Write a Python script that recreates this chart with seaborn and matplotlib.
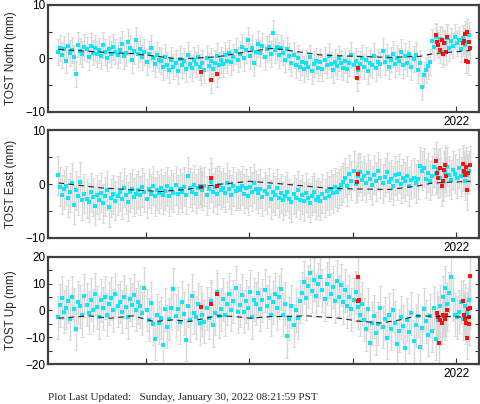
import numpy as np
import matplotlib
matplotlib.use("Agg")
import matplotlib.pyplot as plt
import seaborn as sns

# span of the daily GPS solutions (decimal year)
t_first, t_last = 2018.15, 2022.13

north = [1.2, 2.0, 0.6, 1.8, -0.4, 2.4, 1.0, 1.6, 0.2, -2.9,
         2.6, 1.4, 0.8, 2.1, 1.7, 0.3, 2.3, 1.1, 1.9, 0.9,
         1.5, 0.4, 2.5, 1.2, 0.0, 1.8, 0.9, 2.2, 1.3, 0.6,
         1.6, 2.7, 0.5, 1.0, 3.1, 1.9, -0.3, 1.4, 3.4, 0.8,
         1.7, 0.2, 1.2, -0.6, 0.9, 1.9, 0.0, -1.0, 0.7, -0.2,
         -0.5, -1.6, 0.3, -1.2, -2.1, -0.3, -1.5, -0.9, -2.4, -0.1,
         -1.3, -0.4, -2.0, 0.6, -1.0, -1.8, -0.2, -1.1, 0.2, -1.6,
         -0.8, -2.2, 0.1, -1.4, -0.5, -1.9, -0.9, 0.4, -1.2, -0.3,
         -1.0, 0.6, -0.4, 1.1, -0.7, 0.3, 1.4, -0.2,
         0.8, 2.2, 0.0, 1.6, 3.4, 0.5, 1.9, -0.9, 1.2, 2.7,
         1.0, 2.4, 0.3, 1.8, 2.1, 0.9, 4.8, 1.5, 2.2, 0.6,
         2.0, 1.1, -0.2, 1.7, 0.4, -0.8, 0.6, -1.2, 0.1, -1.6,
         -0.6, -2.0, -0.9, -1.5, 0.2, -2.3, -1.0, -0.4, -1.8, -0.7,
         -1.9, -0.3, -1.3, 0.5, -1.1, -2.1, -0.6, -1.4, 0.0, -0.9,
         -1.7, -0.4, -2.0, -0.8, 0.7, -1.3, -0.5, -2.2, -1.0, 0.1,
         -1.5, -0.2, -2.4, -0.9, -1.3, 0.4, -1.8, -0.6, -1.1, 1.4,
         -0.7, 0.3, -1.5, -0.2, 0.8, -1.0, 0.1, -0.5, 1.2, -1.3,
         0.4, -0.8, 0.9, -1.6, -0.1, 0.6, -2.2, -0.9, -5.3, -3.0,
         -2.2, -1.4, -0.6, 3.2, 2.1, 4.0,
         2.6, 3.6, 1.3, 2.9, 3.8, 2.0, 3.3, 2.4, 4.1, 2.8, 3.5, 1.8, 3.9, 2.5, 3.1, 4.4]

east = [1.6, -0.5, -2.0, -1.0, -0.3, -2.6, -1.5, 0.2, -3.8, -1.2,
        -2.2, 0.4, -3.0, -1.8, -2.7, -3.4, -1.5, -2.4, -4.0, -2.0,
        -2.9, -1.6, -3.6, -2.3, -1.2, -4.3, -2.6, -1.9, -3.1, -2.2,
        -1.4, -2.8, -0.7, -2.0, -3.3, -1.5, -0.9, -2.4, -1.8, -1.1,
        -2.1, -0.6, -1.5, -2.7, -0.9, -1.8, -0.3, -2.3, -1.2, -1.7,
        -0.8, -2.0, -1.3, -0.4, -2.3, -1.0, -1.6, -0.2, -1.9, -0.9,
        -1.5, -0.5, -2.0, 1.4, -0.7, -1.4, -0.1, -1.8, -0.8, -0.3,
        -1.2, -0.4, -2.1, -0.9, 0.3, -1.5, -0.6, -1.9, -0.2, -1.1,
        -0.7, -1.6, 0.2, -1.0, -2.0, -0.4, -1.3, -0.8,
        -1.2, -0.3, -1.8, -0.8, -2.2, -0.5, -1.4, 0.1, -1.0, -1.7,
        -0.9, -2.4, -1.3, -1.9, -0.6, -2.8, -1.5, -2.1, -0.8, -2.5,
        -1.7, -3.0, -2.2, -1.4, -2.7, -3.4, -1.9, -2.5, -1.2, -2.9,
        -2.0, -3.2, -1.6, -2.6, -3.5, -2.2, -1.5, -2.9, -2.4, -3.1,
        -1.8, -2.6, -1.3, -2.2, -1.0, -1.7, -0.6, -1.4, -0.9, -0.2,
        0.3, 1.2, -0.4, 1.8, 0.6, 2.5, 0.0, 1.4, 2.2, 0.7,
        1.5, 0.2, 2.0, 0.9, -0.2, 1.7, 0.5, 2.4, 1.1, 0.1,
        1.3, 2.2, 0.4, 0.9, -0.3, 1.6, 0.6, 1.9, 0.0, 1.1,
        0.5, 1.5, -0.4, 0.8, 1.2, 0.1, 0.9, 3.3, 2.5, 3.0,
        1.0, 2.1, 0.6, 1.5, 3.1, 1.8,
        2.8, 1.2, 0.4, 2.2, 3.2, 1.6, 0.8, 2.6, 1.9, 1.1, 2.9, 1.4, 2.3, 0.6, 1.7, 2.5]

up = [-2.5, 2.0, 4.8, -0.5, 1.0, 3.5, -3.2, 5.0, 0.5, -6.8,
      3.0, 1.5, -1.8, 5.5, 2.2, -0.8, 4.0, 0.2, 6.2, 1.2,
      -2.5, 3.8, 0.8, 5.0, -1.5, 2.6, 4.5, 0.0, 6.0, 1.8,
      3.2, -0.5, 5.2, 1.4, -2.6, 4.2, 2.1, 5.8, 0.3, 3.0,
      1.5, -1.0, 8.3, 0.2, -3.5, 2.8, -5.0, -10.5, -1.8, -4.5,
      -2.8, -12.8, 0.5, -6.0, -3.2, 1.0, 8.0, -2.0, 0.6, -4.4,
      3.0, -1.2, -11.0, 1.8, -3.6, 5.5, -0.8, -2.5, 2.4, -4.8,
      -1.5, -4.2, 0.8, -2.8, 3.5, -5.5, -1.0, 7.0, -2.2, 0.5,
      4.2, -1.5, 2.5, 6.0, 0.2, 3.5, 8.5, -0.5,
      2.0, 5.8, -0.5, 3.5, 1.0, 7.0, -2.5, 4.0, 2.5, 6.5,
      0.5, 3.8, 7.5, 1.5, 4.8, -1.5, 3.0, 6.2, 0.8, 5.0,
      8.0, -1.5, 2.5, -9.7, -3.0, 1.5, -5.5, 0.0, -2.8, 3.5,
      6.5, 10.5, 4.5, 9.0, 13.9, 7.2, 11.5, 5.5, 9.8, 12.5,
      7.5, 4.2, 10.0, 12.8, 6.0, 8.8, 3.5, 11.0, 5.2, 9.5,
      3.0, 7.5, 1.5, 5.2, 0.5, 4.0, 6.8, 1.2, -1.5, 2.5,
      -3.5, -7.0, 0.5, -12.0, -4.8, -2.2, -8.5, -5.0, 1.0, -6.2,
      -3.0, -10.2, -1.5, -6.8, 0.0, -4.5, -12.5, -7.5, -2.5, -5.8,
      -14.0, -3.5, -8.0, -1.0, -11.5, -5.5, -2.0, -13.5, -6.5, 0.5,
      -4.0, -9.0, -2.0, -7.5, 1.0, -10.5,
      -3.5, 1.5, 5.0, 8.5, 2.5, 6.5, 12.5, 4.0, -1.5, -2.5, -0.5, 3.0, -3.0, 1.8, -1.0, 4.0]

# flagged (red) solutions
north_red_t = [2019.54, 2019.63, 2019.69, 2021.05, 2021.04,
               2021.81, 2021.82, 2021.83, 2021.85, 2021.86, 2021.87, 2021.88, 2021.90, 2021.91,
               2022.07, 2022.08, 2022.09, 2022.10, 2022.11, 2022.12, 2022.13, 2022.14]
north_red = [-2.5, -4.0, -2.9, -1.7, -3.7,
             4.3, 3.0, 2.5, 1.5, 3.5, 0.9, 2.8, 1.2, 4.0,
             2.8, 3.3, 4.6, -0.4, 5.0, -0.6, 3.0, 2.0]
east_red_t = [2019.54, 2019.63, 2019.69, 2021.05, 2021.04,
              2021.81, 2021.82, 2021.83, 2021.85, 2021.86, 2021.87, 2021.88, 2021.89, 2021.90,
              2022.07, 2022.08, 2022.09, 2022.10, 2022.11, 2022.12, 2022.14]
east_red = [-0.6, 1.2, -0.3, 1.9, 0.4,
            4.2, 2.0, 1.1, 3.0, -0.4, 0.5, 2.6, 3.6, 1.4,
            3.7, 2.5, 1.7, 3.2, -1.2, 2.0, 3.5]
up_red_t = [2019.54, 2019.63, 2019.69, 2021.05, 2021.05, 2021.06,
            2021.82, 2021.83, 2021.84, 2021.85, 2021.86, 2021.87, 2021.88, 2021.89, 2021.90, 2021.91,
            2022.07, 2022.08, 2022.09, 2022.10, 2022.11, 2022.12, 2022.13, 2022.14, 2022.14, 2022.13]
up_red = [1.2, 2.5, 6.2, 12.7, 3.6, 4.0,
          -1.0, -2.5, -12.0, -3.5, -4.7, -1.8, -2.0, -3.0, -1.5, 0.3,
          3.4, -1.5, -3.0, -4.5, -10.3, 0.5, -2.5, 13.0, 1.0, -5.0]

# model fit (dashed)
north_model_t = [2018.16, 2018.56, 2018.88, 2019.11, 2019.33, 2019.69, 2020.0, 2020.23,
                 2020.72, 2021.36, 2021.65, 2021.78, 2022.14]
north_model = [1.7, 1.2, 0.9, 0.4, -0.1, 0.3, 1.3, 1.9, 0.6, 0.2, 0.4, 0.9, 1.5]
east_model_t = [2018.16, 2018.56, 2019.14, 2019.40, 2019.69, 2020.01, 2020.33, 2020.72,
                2020.98, 2021.36, 2021.62, 2021.78, 2022.14]
east_model = [0.2, -0.7, -1.4, -1.0, -0.1, 0.5, 0.0, -0.7, -0.9, -1.0, -0.4, 0.2, 0.5]
up_model_t = [2018.16, 2018.46, 2018.66, 2018.88, 2019.08, 2019.27, 2019.43, 2019.69, 2019.85,
              2020.01, 2020.20, 2020.40, 2020.56, 2020.88, 2021.04, 2021.27, 2021.46, 2021.62,
              2021.85, 2022.14]
up_model = [-2.9, -2.0, -2.9, -2.0, -4.1, -3.5, -4.1, -2.0, -2.2, -2.9, -2.3, -2.2, -2.0,
            -2.9, -3.9, -4.7, -3.5, -2.0, -2.2, -2.5]

north_sig, east_sig, up_sig = 2.4, 3.6, 8.0

sns.set_style("ticks")
plt.rcParams['font.family'] = ['Liberation Sans', 'DejaVu Sans']
plt.rcParams['axes.unicode_minus'] = True

fig = plt.figure(figsize=(4.81, 4.04), dpi=100)
boxes = [[0.0998, 0.7228, 0.896, 0.2649],
         [0.0998, 0.4109, 0.896, 0.2673],
         [0.0998, 0.0990, 0.896, 0.2649]]

panels = [
    (north, north_sig, north_red_t, north_red, north_model_t, north_model, 'TOST North (mm)', 10),
    (east, east_sig, east_red_t, east_red, east_model_t, east_model, 'TOST East (mm)', 10),
    (up, up_sig, up_red_t, up_red, up_model_t, up_model, 'TOST Up (mm)', 20),
]

for box, (vals, sig, rt, rv, mt, mv, lab, lim) in zip(boxes, panels):
    ax = fig.add_axes(box)
    t = np.linspace(t_first, t_last, len(vals))
    ax.errorbar(t, vals, yerr=sig, fmt='none', ecolor='#d8d8d8', elinewidth=1.0,
                capsize=1.5, capthick=0.6, zorder=1)
    ax.errorbar(rt, rv, yerr=sig, fmt='none', ecolor='#d8d8d8', elinewidth=1.0,
                capsize=1.5, capthick=0.6, zorder=1)
    sns.scatterplot(x=t, y=vals, ax=ax, color='#0ae6fa', s=5, marker='s',
                    linewidth=0, zorder=3)
    sns.scatterplot(x=rt, y=rv, ax=ax, color='#ff1010', s=5, marker='s',
                    linewidth=0, zorder=4)
    sns.lineplot(x=mt, y=mv, ax=ax, color='#222222', linewidth=0.8,
                 linestyle=(0, (5, 4)), zorder=5)

    ax.set_xlim(2018.058, 2022.222)
    ax.set_ylim(-lim, lim)
    if lim == 20:
        yt = [-20, -15, -10, -5, 0, 5, 10, 15, 20]
        ylab = ['\u221220', '', '\u221210', '', '0', '', '10', '', '20']
    else:
        yt = [-10, -5, 0, 5, 10]
        ylab = ['\u221210', '', '0', '', '10']
    ax.set_yticks(yt)
    ax.set_yticklabels(ylab)
    ax.set_xticks([2019, 2020, 2021, 2022])
    ax.set_xticklabels(['', '', '', '2022'])
    ax.tick_params(axis='y', direction='in', right=True, length=3, width=0.8,
                   labelsize=8.5, pad=2, colors='#333333', labelcolor='black')
    ax.tick_params(axis='x', direction='in', length=4, width=0.8,
                   labelsize=8.5, pad=3, colors='#333333', labelcolor='black')
    for s in ax.spines.values():
        s.set_linewidth(1.6)
        s.set_color('#404040')
    ax.set_ylabel(lab, fontsize=8.5)
    ax.yaxis.set_label_coords(-0.072, 0.5)
    ax.set_xlabel('')

fig.text(48 / 481, 1 - 397 / 404, 'Plot Last Updated:   Sunday, January 30, 2022 08:21:59 PST',
         family=['Liberation Serif', 'DejaVu Serif'], fontsize=8, va='center', ha='left')

fig.savefig('out.png', dpi=100)
